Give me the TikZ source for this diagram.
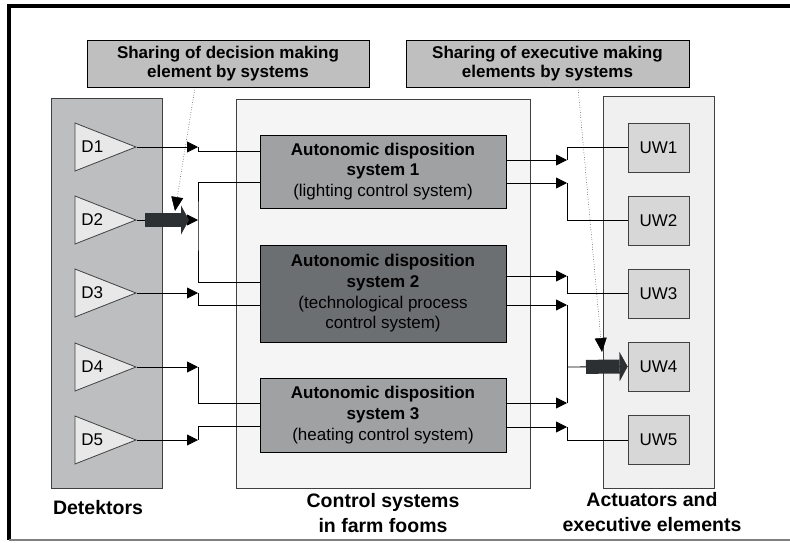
\documentclass[tikz,border=0pt]{standalone}
\usepackage{fontspec}
\setmainfont{Liberation Sans}
\usetikzlibrary{shapes.geometric,arrows.meta}
\definecolor{edge}{HTML}{404040}
\definecolor{detfill}{HTML}{BDBEBF}
\definecolor{ctrlfill}{HTML}{F5F5F5}
\definecolor{actfill}{HTML}{F0F0F0}
\definecolor{sharefill}{HTML}{BFBFBF}
\definecolor{sensfill}{HTML}{E8E8E8}
\definecolor{sysfill}{HTML}{A0A1A3}
\definecolor{sysdark}{HTML}{6C6F71}
\definecolor{uwfill}{HTML}{D7D7D7}
\definecolor{fatcol}{HTML}{2D3033}
\begin{document}
\begin{tikzpicture}[x = 1pt, y = -1pt, line width = 0.8pt,
    panel/.style = {draw = edge, minimum width = 111pt, minimum height = 390pt},
    share/.style = {draw = black, fill = sharefill, minimum width = 282pt, minimum height = 47pt,
                    align = center, font = \fontsize{17}{19}\selectfont\bfseries},
    sensor/.style = {isosceles triangle, isosceles triangle stretches, shape border rotate = 0,
                     draw = edge, fill = sensfill, minimum width = 48pt, minimum height = 61pt,
                     inner sep = 0pt, anchor = apex, font = \fontsize{17}{20}\selectfont},
    system/.style = {draw = black, fill = sysfill, minimum width = 246pt, align = center,
                     font = \fontsize{17}{20.7}\selectfont},
    actor/.style = {draw = edge, fill = uwfill, minimum width = 61pt, minimum height = 49pt,
                    font = \fontsize{17}{20}\selectfont},
    caption/.style = {align = center, font = \fontsize{19.5}{24.5}\selectfont\bfseries},
    arr/.style = {-{Triangle[length = 11pt, width = 11pt]}},
    fat/.style = {draw = fatcol, line width = 14pt,
                  -{Triangle[length = 8pt, width = 29pt, line width = 0.4pt]}},
    hint/.style = {dotted, line width = 0.5pt, -{Triangle[length = 14pt, width = 12pt]}}]
    \useasboundingbox (0, 0) rectangle (790, 542);
    \draw [line width = 4pt] (790, 6) -- (9, 6) -- (9, 540);
    \draw [gray, line width = 1.5pt] (9, 540) -- (790, 540);

    \node [panel, fill = detfill] (detpanel) at (106.5, 293) {};
    \node [panel, fill = ctrlfill, minimum width = 294pt, minimum height = 389pt] (ctrlpanel) at (383, 293.5) {};
    \node [panel, fill = actfill, minimum height = 392pt] (actpanel) at (658.5, 292) {};

    \node [share] (decshare) at (228, 63.5) {Sharing of decision making\\element by systems};
    \node [share, minimum width = 283pt] (exeshare) at (547.5, 63.5) {Sharing of executive making\\elements by systems};

    \node [sensor] (d1) at (137, 147) {D1};
    \node [sensor] (d2) at (137, 220) {D2};
    \node [sensor] (d3) at (137, 293) {D3};
    \node [sensor] (d4) at (137, 367) {D4};
    \node [sensor] (d5) at (137, 440) {D5};

    \node [system, minimum height = 73pt] (s1) at (383, 171.5)
        {\textbf{Autonomic disposition}\\\textbf{system 1}\\(lighting control system)};
    \node [system, fill = sysdark, minimum height = 97pt] (s2) at (383, 293.5)
        {\textbf{Autonomic disposition}\\\textbf{system 2}\\(technological process\\control system)};
    \node [system, minimum height = 74pt] (s3) at (383, 415)
        {\textbf{Autonomic disposition}\\\textbf{system 3}\\(heating control system)};

    \node [actor] (uw1) at (658.5, 147.5) {UW1};
    \node [actor] (uw2) at (658.5, 220.5) {UW2};
    \node [actor] (uw3) at (658.5, 293.5) {UW3};
    \node [actor] (uw4) at (658.5, 366.5) {UW4};
    \node [actor] (uw5) at (658.5, 440) {UW5};

    \node [caption] (detlabel) at (98, 508) {Detektors};
    \node [caption] (ctrllabel) at (383, 513) {Control systems\\in farm fooms};
    \node [caption] (actlabel) at (652, 512) {Actuators and\\executive elements};

    \coordinate (l1) at (198, 147);
    \coordinate (l2) at (198, 220);
    \coordinate (l3) at (198, 293);
    \coordinate (l4) at (198, 367);
    \coordinate (l5) at (198, 440);
    \coordinate (r1) at (567, 160);
    \coordinate (r2) at (567, 183);
    \coordinate (r3) at (567, 276);
    \coordinate (r4) at (567, 305);
    \coordinate (r5) at (567, 403);
    \coordinate (r6) at (567, 367);
    \coordinate (r7) at (567, 427);
    \coordinate (hintl) at (175, 211);
    \coordinate (hintr) at (602, 352);

    \draw [arr] (d1.apex) -- (l1);
    \draw (l1) |- ([yshift = 20.5pt]s1.west);
    \draw [arr] (d2.apex) -- (l2);
    \draw ([yshift = -10.5pt]s1.west) -| (l2) |- ([yshift = 11.5pt]s2.west);
    \draw [fat, shorten <= 8pt, shorten >= 9pt] (d2.apex) -- (l2);
    \draw [arr] (d3.apex) -- (l3);
    \draw (l3) |- ([yshift = -11.5pt]s2.west);
    \draw [arr] (d4.apex) -- (l4);
    \draw (l4) |- ([yshift = 12pt]s3.west);
    \draw [arr] (d5.apex) -- (l5);
    \draw (l5) |- ([yshift = -11pt]s3.west);

    \draw [arr] ([yshift = 11.5pt]s1.east) -- (r1);
    \draw (r1) |- (uw1.west);
    \draw [arr] ([yshift = -11.5pt]s1.east) -- (r2);
    \draw (r2) |- (uw2.west);
    \draw [arr] ([yshift = 17.5pt]s2.east) -- (r3);
    \draw (r3) |- (uw3.west);
    \draw [arr] ([yshift = -11.5pt]s2.east) -- (r4);
    \draw [arr] ([yshift = 12pt]s3.east) -- (r5);
    \draw (r4) -- (r5);
    \draw (r6) -- (uw4.west);
    \draw [fat, shorten <= 19pt] (r6) -- (uw4.west);
    \draw [arr] ([yshift = -12pt]s3.east) -- (r7);
    \draw (r7) |- (uw5.west);

    \draw [hint] ([xshift = -33pt]decshare.south) -- (hintl);
    \draw [hint] ([xshift = 30.5pt]exeshare.south) -- (hintr);
\end{tikzpicture}
\end{document}
